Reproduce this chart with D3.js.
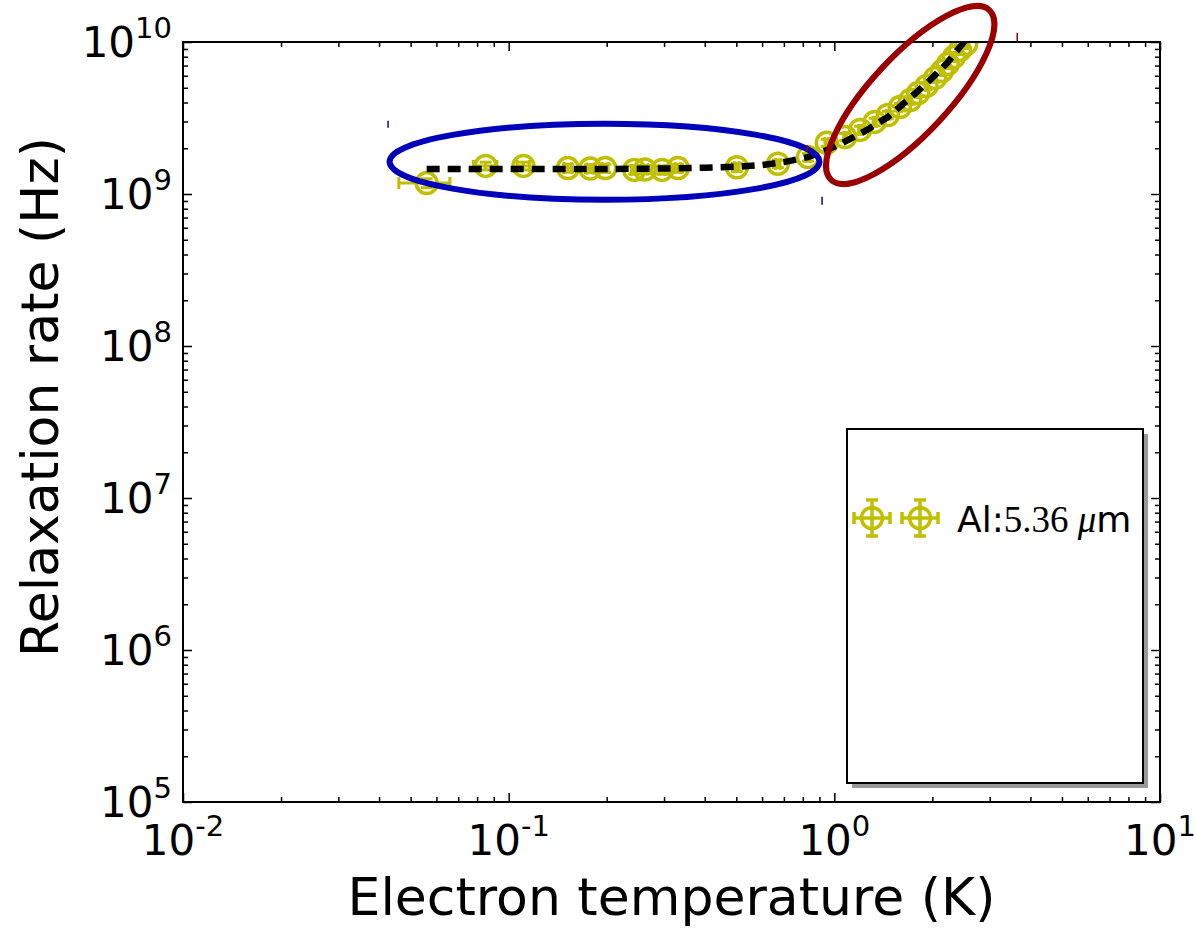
<!DOCTYPE html>
<html lang="en">
<head>
<meta charset="utf-8">
<title>Relaxation rate vs electron temperature</title>
<script src="https://cdn.jsdelivr.net/npm/d3@7"></script>
<style>
  body { margin: 0; background: #fff; }
  svg { font-family: "DejaVu Sans", sans-serif; }
  .ticks line { stroke: #000; stroke-width: 1.5; }
  .ticks .domain { display: none; }
  .ticks text { display: none; }
</style>
</head>
<body>
<script>
// measured points (K, Hz)
var temperature = [0.056, 0.085, 0.111, 0.152, 0.178, 0.198, 0.243, 0.262, 0.296, 0.331,
                   0.502, 0.671, 0.830, 0.948, 1.08, 1.20, 1.33, 1.46, 1.59, 1.71,
                   1.81, 1.92, 2.04, 2.14, 2.23, 2.33, 2.43, 2.54];
var rate = [1.18e9, 1.53e9, 1.53e9, 1.48e9, 1.47e9, 1.48e9, 1.44e9, 1.45e9, 1.44e9, 1.48e9,
            1.50e9, 1.58e9, 1.75e9, 2.17e9, 2.37e9, 2.64e9, 2.98e9, 3.31e9, 3.73e9, 4.15e9,
            4.62e9, 5.14e9, 5.80e9, 6.44e9, 7.16e9, 7.97e9, 8.86e9, 9.70e9];
var tempErr = [0.010, 0.007, 0.005, 0.004, 0.004, 0.004, 0.005, 0.005, 0.006, 0.006,
               0.008, 0.010, 0.012, 0.012, 0.012, 0.013, 0.014, 0.015, 0.016, 0.017,
               0.018, 0.019, 0.020, 0.021, 0.022, 0.023, 0.024, 0.025];
var rateErr = [0.08e9, 0.09e9, 0.09e9, 0.09e9, 0.09e9, 0.09e9, 0.09e9, 0.09e9, 0.09e9, 0.09e9,
               0.09e9, 0.09e9, 0.10e9, 0.12e9, 0.13e9, 0.15e9, 0.17e9, 0.19e9, 0.21e9, 0.24e9,
               0.26e9, 0.29e9, 0.33e9, 0.36e9, 0.40e9, 0.45e9, 0.50e9, 0.55e9];

// fitted curve (dashed)
var fitTemperature = [0.056, 0.1, 0.2, 0.3, 0.4, 0.5, 0.6, 0.7, 0.83, 0.94,
                      1.06, 1.26, 1.46, 1.68, 1.94, 2.22, 2.35, 2.5, 2.65];
var fitRate = [1.46e9, 1.46e9, 1.46e9, 1.47e9, 1.49e9, 1.51e9, 1.55e9, 1.62e9, 1.75e9, 1.93e9,
               2.17e9, 2.64e9, 3.21e9, 4.15e9, 5.46e9, 7.27e9, 8.47e9, 1.00e10, 1.16e10];

// tick labels
var xMajor = [0.01, 0.1, 1, 10];
var xExp = ["-2", "-1", "0", "1"];
var yMajor = [1e5, 1e6, 1e7, 1e8, 1e9, 1e10];
var yExp = ["5", "6", "7", "8", "9", "10"];

var legendText = "Al:";
var legendMath = "5.36 ";
var legendUnit = "m";

// highlight ellipses, centred in data coords
var blueCenter = [0.197, 1.63e9];
var redCenter = [1.71, 4.48e9];

var W = 1194, H = 928;
var padL = 183, padR = 1160, padT = 42, padB = 802;
var yellow = "#bfbf00";

var svg = d3.select("body").append("svg")
    .attr("width", W)
    .attr("height", H);

var x = d3.scaleLog().domain([0.01, 10]).range([padL, padR]);
var y = d3.scaleLog().domain([1e5, 1e10]).range([padB, padT]);

var xMinor = x.ticks().filter(function(d) { return xMajor.indexOf(d) < 0; });
var yMinor = y.ticks().filter(function(d) { return yMajor.indexOf(d) < 0; });

// ticks on all four sides, pointing inward
function ticks(axisFn, scale, vals, size, tr) {
    svg.append("g")
        .attr("class", "ticks")
        .attr("transform", tr)
        .call(axisFn(scale).tickValues(vals).tickSize(-size).tickFormat(""));
}
ticks(d3.axisBottom, x, xMajor, 9, "translate(0," + padB + ")");
ticks(d3.axisBottom, x, xMinor, 5, "translate(0," + padB + ")");
ticks(d3.axisTop, x, xMajor, 9, "translate(0," + padT + ")");
ticks(d3.axisTop, x, xMinor, 5, "translate(0," + padT + ")");
ticks(d3.axisLeft, y, yMajor, 9, "translate(" + padL + ",0)");
ticks(d3.axisLeft, y, yMinor, 5, "translate(" + padL + ",0)");
ticks(d3.axisRight, y, yMajor, 9, "translate(" + padR + ",0)");
ticks(d3.axisRight, y, yMinor, 5, "translate(" + padR + ",0)");

// tick labels as 10^n
var xl = svg.selectAll(".xlab").data(xMajor).enter().append("text")
    .attr("class", "xlab")
    .attr("x", function(d) { return x(d); })
    .attr("y", 855)
    .attr("text-anchor", "middle")
    .attr("font-size", 42);
xl.append("tspan").text("10");
xl.append("tspan").attr("font-size", 29).attr("dy", -19).text(function(d, i) { return xExp[i]; });

var yl = svg.selectAll(".ylab").data(yMajor).enter().append("text")
    .attr("class", "ylab")
    .attr("x", 172)
    .attr("y", function(d) { return y(d) + 15; })
    .attr("text-anchor", "end")
    .attr("font-size", 42);
yl.append("tspan").text("10");
yl.append("tspan").attr("font-size", 29).attr("dy", -19).text(function(d, i) { return yExp[i]; });

// axis titles
svg.append("text")
    .attr("x", (padL + padR) / 2)
    .attr("y", 915)
    .attr("text-anchor", "middle")
    .attr("font-size", 52)
    .text("Electron temperature (K)");

svg.append("text")
    .attr("transform", "translate(58,397) rotate(-90)")
    .attr("text-anchor", "middle")
    .attr("font-size", 52)
    .text("Relaxation rate (Hz)");

// data area
svg.append("clipPath").attr("id", "clip")
    .append("rect")
    .attr("x", padL).attr("y", padT)
    .attr("width", padR - padL).attr("height", padB - padT);

var plot = svg.append("g").attr("clip-path", "url(#clip)");

var pts = temperature.map(function(t, i) {
    return { t: t, r: rate[i], dt: tempErr[i], dr: rateErr[i] };
});

var eb = plot.append("g")
    .attr("stroke", yellow)
    .attr("stroke-width", 3);

pts.forEach(function(p) {
    var cx = x(p.t), cy = y(p.r);
    var x0 = x(p.t - p.dt), x1 = x(p.t + p.dt);
    var y0 = y(p.r - p.dr), y1 = y(p.r + p.dr);
    eb.append("line").attr("x1", x0).attr("x2", x1).attr("y1", cy).attr("y2", cy);
    eb.append("line").attr("x1", x0).attr("x2", x0).attr("y1", cy - 6).attr("y2", cy + 6);
    eb.append("line").attr("x1", x1).attr("x2", x1).attr("y1", cy - 6).attr("y2", cy + 6);
    eb.append("line").attr("x1", cx).attr("x2", cx).attr("y1", y0).attr("y2", y1);
    eb.append("line").attr("x1", cx - 6).attr("x2", cx + 6).attr("y1", y0).attr("y2", y0);
    eb.append("line").attr("x1", cx - 6).attr("x2", cx + 6).attr("y1", y1).attr("y2", y1);
});

plot.selectAll("circle.pt").data(pts).enter().append("circle")
    .attr("class", "pt")
    .attr("cx", function(d) { return x(d.t); })
    .attr("cy", function(d) { return y(d.r); })
    .attr("r", 10.5)
    .attr("fill", "none")
    .attr("stroke", yellow)
    .attr("stroke-width", 3.5);

var line = d3.line()
    .x(function(d, i) { return x(fitTemperature[i]); })
    .y(function(d, i) { return y(fitRate[i]); });

plot.append("path")
    .datum(fitRate)
    .attr("d", line)
    .attr("fill", "none")
    .attr("stroke", "#000")
    .attr("stroke-width", 6.5)
    .attr("stroke-dasharray", "13,8");

// frame
svg.append("rect")
    .attr("x", padL).attr("y", padT)
    .attr("width", padR - padL).attr("height", padB - padT)
    .attr("fill", "none")
    .attr("stroke", "#000")
    .attr("stroke-width", 2);

// legend
var lg = svg.append("g").attr("transform", "translate(847,429)");
lg.append("rect")
    .attr("x", 5).attr("y", 5)
    .attr("width", 296).attr("height", 354)
    .attr("fill", "#9a9a9a");
lg.append("rect")
    .attr("width", 296).attr("height", 354)
    .attr("fill", "#fff")
    .attr("stroke", "#000")
    .attr("stroke-width", 2);

[25, 73].forEach(function(mx) {
    var m = lg.append("g")
        .attr("transform", "translate(" + mx + ",89)")
        .attr("stroke", yellow)
        .attr("stroke-width", 3.5)
        .attr("fill", "none");
    m.append("line").attr("x1", -18).attr("x2", 18);
    m.append("line").attr("y1", -18).attr("y2", 18);
    m.append("line").attr("x1", -18).attr("x2", -18).attr("y1", -6).attr("y2", 6);
    m.append("line").attr("x1", 18).attr("x2", 18).attr("y1", -6).attr("y2", 6);
    m.append("line").attr("y1", -18).attr("y2", -18).attr("x1", -6).attr("x2", 6);
    m.append("line").attr("y1", 18).attr("y2", 18).attr("x1", -6).attr("x2", 6);
    m.append("circle").attr("r", 10.5);
});

var lt = lg.append("text")
    .attr("x", 110)
    .attr("y", 103)
    .attr("font-size", 36);
lt.append("tspan").text(legendText);
lt.append("tspan").attr("font-family", "Liberation Serif").attr("font-size", 37).text(legendMath);
lt.append("tspan").attr("font-family", "Liberation Serif").attr("font-style", "italic").attr("font-size", 37).text("\u03bc");
lt.append("tspan").text(legendUnit);

// highlight ellipses and their stray handle marks
var bx = x(blueCenter[0]), by = y(blueCenter[1]);
svg.append("ellipse")
    .attr("cx", bx).attr("cy", by)
    .attr("rx", 215).attr("ry", 38)
    .attr("fill", "none")
    .attr("stroke", "#0000bb")
    .attr("stroke-width", 6);
svg.append("line").attr("x1", bx - 216.5).attr("x2", bx - 216.5).attr("y1", by - 41).attr("y2", by - 34)
    .attr("stroke", "#0000bb").attr("stroke-width", 1.5);
svg.append("line").attr("x1", bx + 217.5).attr("x2", bx + 217.5).attr("y1", by + 35).attr("y2", by + 43)
    .attr("stroke", "#0000bb").attr("stroke-width", 1.5);

var rcx = x(redCenter[0]), rcy = y(redCenter[1]);
svg.append("ellipse")
    .attr("transform", "translate(" + rcx + "," + rcy + ") rotate(-47)")
    .attr("rx", 116).attr("ry", 39)
    .attr("fill", "none")
    .attr("stroke", "#990000")
    .attr("stroke-width", 6);
svg.append("line").attr("x1", rcx + 107).attr("x2", rcx + 107).attr("y1", rcy - 62).attr("y2", rcy - 54)
    .attr("stroke", "#990000").attr("stroke-width", 1.5);
svg.append("line").attr("x1", rcx - 103).attr("x2", rcx - 103).attr("y1", rcy + 50).attr("y2", rcy + 56)
    .attr("stroke", "#990000").attr("stroke-width", 1.5);
</script>
</body>
</html>
